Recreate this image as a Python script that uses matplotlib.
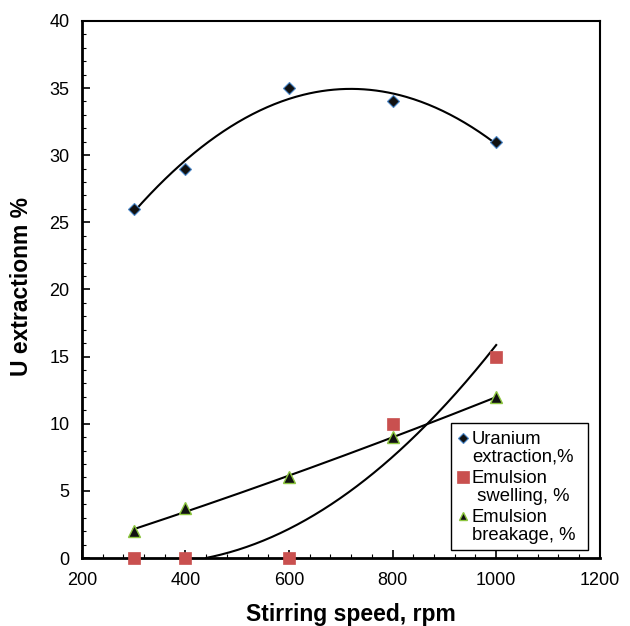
import numpy as np
import matplotlib
matplotlib.use("Agg")
import matplotlib.pyplot as plt
from matplotlib.ticker import MultipleLocator
from matplotlib.patches import Rectangle

plt.rcParams['font.family'] = ['Liberation Sans', 'DejaVu Sans']

# Stirring speed (rpm) and measured responses (%)
speed = [300, 400, 600, 800, 1000]
uranium = [26, 29, 35, 34, 31]
swelling = [0, 0, 0, 10, 15]
breakage = [2, 3.7, 6, 9, 12]

legend_lines = [
    ("Uranium", "extraction,%"),
    ("Emulsion", " swelling, %"),
    ("Emulsion", "breakage, %"),
]

fig = plt.figure(figsize=(6.3, 6.26), dpi=100)
ax = fig.add_axes([0.130, 0.1086, 0.822, 0.858])

xs = np.linspace(300, 1000, 300)

# second-order trendlines
pu = np.polyfit(speed, uranium, 2)
ax.plot(xs, np.polyval(pu, xs), color='black', lw=1.5, zorder=2)

ps = np.polyfit(speed, swelling, 2)
ys = np.polyval(ps, xs)
mask = ys >= 0
ax.plot(xs[mask], ys[mask], color='black', lw=1.5, zorder=2)

pb = np.polyfit(speed, breakage, 2)
ax.plot(xs, np.polyval(pb, xs), color='black', lw=1.5, zorder=2)

styles = [
    dict(marker='D', ms=6, mfc='#111111', mec='#4a86c8', mew=0.8),
    dict(marker='s', ms=9, mfc='#c9504f', mec='#c9504f', mew=0.5),
    dict(marker='^', ms=8, mfc='#111111', mec='#8dc63f', mew=1.0),
]
for series, st in zip([uranium, swelling, breakage], styles):
    ax.plot(speed, series, linestyle='none', zorder=3, clip_on=False, **st)

ax.set_xlim(200, 1200)
ax.set_ylim(0, 40)
ax.xaxis.set_major_locator(MultipleLocator(200))
ax.xaxis.set_minor_locator(MultipleLocator(40))
ax.yaxis.set_major_locator(MultipleLocator(5))
ax.yaxis.set_minor_locator(MultipleLocator(1))
ax.tick_params(which='both', direction='in', top=False, right=False,
               labelsize=13)
ax.tick_params(axis='x', pad=10)
ax.tick_params(axis='y', pad=9)
ax.tick_params(which='major', length=6, width=1.2)
ax.tick_params(which='minor', length=3, width=0.8)

for side in ['left', 'bottom']:
    ax.spines[side].set_linewidth(2)
for side in ['top', 'right']:
    ax.spines[side].set_linewidth(1.5)

ax.set_xlabel('Stirring speed, rpm', fontsize=16.5, fontweight='bold')
ax.set_ylabel('U extractionm %', fontsize=16.5, fontweight='bold')
ax.xaxis.set_label_coords(0.519, -0.084)
ax.yaxis.set_label_coords(-0.094, 0.505)

# legend box drawn in axes coordinates
ax.add_patch(Rectangle((0.7124, 0.0149), 0.2644, 0.2365, transform=ax.transAxes,
                       facecolor='white', edgecolor='black', lw=1.0,
                       zorder=4, clip_on=False))
first_base = [0.2123, 0.1397, 0.0670]
marker_y = [0.2235, 0.1508, 0.0782]
legend_ms = [5, 8, 6]
for (l1, l2), yb, ym, st, ms in zip(legend_lines, first_base, marker_y,
                                    styles, legend_ms):
    st2 = dict(st)
    st2['ms'] = ms
    ax.plot([0.7355], [ym], transform=ax.transAxes, linestyle='none',
            zorder=5, clip_on=False, **st2)
    ax.text(0.7529, yb, l1, transform=ax.transAxes, fontsize=13.3,
            va='baseline', ha='left', zorder=5)
    ax.text(0.7529, yb - 0.0335, l2, transform=ax.transAxes, fontsize=13.3,
            va='baseline', ha='left', zorder=5)

fig.savefig('out.png', dpi=100)
